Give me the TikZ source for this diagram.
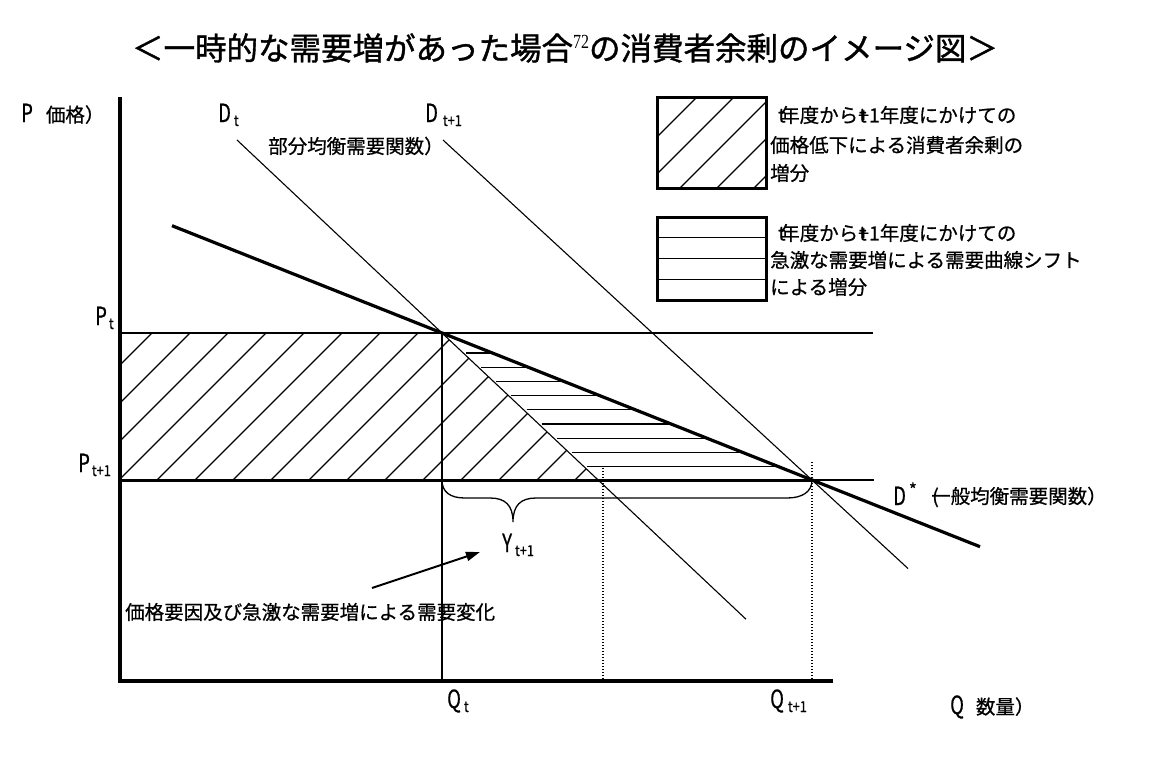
\documentclass[tikz,border=0pt]{standalone}
\usepackage{fontspec}
\usepackage{graphicx}
\setmainfont{Noto Sans CJK JP}[FakeBold=0.7]
\newfontfamily\titlefont{Noto Sans CJK JP}[FakeBold=1.2]
\newfontfamily\serifnum{Liberation Serif}
\usetikzlibrary{arrows.meta}
\newcommand{\bigL}[1]{{\fontsize{25}{25}\selectfont\scalebox{0.74}[1]{#1}}}
\newcommand{\subL}[1]{\raisebox{-4pt}{\fontsize{15}{15}\selectfont\scalebox{0.85}[1]{#1}}}
\newcommand{\lbfont}{\fontsize{19.5}{29}\selectfont}
\newcommand{\legfirst}{\kern2pt\rlap{t}\kern2pt 年度から\rlap{\kern1pt t}+1年度にかけての}
\tikzset{
  thinline/.style={line width=1.1pt, black},
  hatchline/.style={line width=1.1pt, black},
  axisline/.style={line width=4pt, black, line join=miter},
  dotline/.style={line width=1.2pt, black, dash pattern=on 1.2pt off 1.8pt},
  lbl/.style={inner sep=0pt, font=\lbfont},
  legbox/.style={line width=3pt, black},
}
\begin{document}
\begin{tikzpicture}[x=1pt,y=-1pt]
\useasboundingbox (0,0) rectangle (1151,756);
\fill[white] (0,0) rectangle (1151,756);

% key points
\coordinate (E1) at (442,333);
\coordinate (E2) at (812,480);
\coordinate (C) at (598.1,480);
\coordinate (Dts) at (237,140);
\coordinate (Dte) at (746,619.2);
\coordinate (D1s) at (443,140);
\coordinate (D1e) at (908,568.5);
\coordinate (Dss) at (172,225.7);
\coordinate (Dse) at (980,546.7);
\coordinate (O) at (120,681);
\coordinate (Ytop) at (120,97);
\coordinate (Xend) at (833,681);
\coordinate (PtL) at (120,333);
\coordinate (PtR) at (873,333);
\coordinate (P1L) at (120,480);
\coordinate (P1R) at (874,480);
\coordinate (Qb) at (442,480);
\coordinate (Qt) at (442,681);
\coordinate (V1top) at (603,468);
\coordinate (V1bot) at (603,681);
\coordinate (V2top) at (812,462);
\coordinate (V2bot) at (812,681);

% diagonal hatch region
\begin{scope}
  \clip (PtL) -- (E1) -- (C) -- (P1L) -- cycle;
  \foreach \k in {-4,...,13}{
    \pgfmathsetmacro{\c}{599+38*\k}
    \draw[hatchline] (\c-520,520) -- (\c-300,300);
  }
\end{scope}

% horizontal hatch region
\foreach \k in {0,...,8}{
  \pgfmathsetmacro{\yy}{353+14.2*\k}
  \pgfmathsetmacro{\xs}{442+(\yy-333)/0.94146+3}
  \pgfmathsetmacro{\xe}{442+(\yy-333)/0.3973}
  \draw[hatchline] (\xs,\yy) -- (\xe,\yy);
}

% price lines
\draw[line width=2pt] (PtL) -- (E1);
\draw[line width=1.6pt] (E1) -- (PtR);
\draw[line width=3pt] (P1L) -- (E2);
\draw[line width=1.6pt] (E2) -- (P1R);

% demand lines
\draw[thinline] (Dts) -- (Dte);
\draw[thinline] (D1s) -- (D1e);
\draw[line width=3.2pt] (Dss) -- (Dse);

% verticals
\draw[line width=1.6pt] (E1) -- (Qt);
\draw[dotline] (V1top) -- (V1bot);
\draw[dotline] (V2top) -- (V2bot);

% axes
\draw[axisline] (Ytop) -- (O) -- (Xend);

% brace
\draw[line width=1.3pt] (Qb) .. controls (442,492) and (450,498) .. (465,498)
  -- (490,498) .. controls (505,498) and (513,505) .. (513,522)
  .. controls (513,505) and (521,498) .. (536,498)
  -- (787,498) .. controls (802,498) and (812,492) .. (E2);

% arrow
\coordinate (Astart) at (372,588);
\coordinate (Aend) at (480,552);
\draw[line width=2pt, -{Triangle[length=14pt,width=9pt]}] (Astart) -- (Aend);

% legend 1
\begin{scope}
  \clip (657,97) rectangle (766,188);
  \foreach \k in {0,...,4}{
    \pgfmathsetmacro{\c}{794+37*\k}
    \draw[hatchline] (\c-200,200) -- (\c-90,90);
  }
\end{scope}
\draw[legbox] (657,97) rectangle (766,188);
\node[lbl, anchor=west] (l1a) at (776,115) {\legfirst};
\node[lbl, anchor=west] (l1b) at (770,145) {価格低下による消費者余剰の};
\node[lbl, anchor=west] (l1c) at (770,173) {増分};

% legend 2
\foreach \yy in {237.7,258.5,279.2}{
  \draw[line width=1.4pt] (657,\yy) -- (766,\yy);
}
\draw[legbox] (657,217) rectangle (766,300);
\node[lbl, anchor=west] (l2a) at (776,233) {\legfirst};
\node[lbl, anchor=west] (l2b) at (770,260) {急激な需要増による需要曲線シフト};
\node[lbl, anchor=west] (l2c) at (770,287) {による増分};

% title
\node[inner sep=0pt, font=\titlefont\fontsize{31.5}{36}\selectfont] (title) at (565,48)
  {＜一時的な需要増があった場合\raisebox{0.36em}{\serifnum\fontsize{20}{20}\selectfont\scalebox{0.8}[1]{72}}の消費者余剰のイメージ図＞};

% axis labels
\node[lbl, anchor=base west] (plab) at (21,122) {\bigL{P}\kern13pt 価格）};
\node[lbl, anchor=base west] (qlab) at (950,714) {\bigL{Q}\kern12pt 数量）};
\node[lbl, anchor=base west] (dtlab) at (218,122) {\bigL{D}\kern3pt\subL{t}};
\node[lbl, anchor=base west] (d1lab) at (425,122) {\bigL{D}\kern5pt\subL{t+1}};
\node[lbl, anchor=west] (pel) at (268,146) {部分均衡需要関数）};
\node[lbl, anchor=base west] (ptlab) at (95,325) {\bigL{P}\kern2pt\subL{t}};
\node[lbl, anchor=base west] (p1lab) at (78,472) {\bigL{P}\kern2pt\subL{t+1}};
\node[lbl, anchor=base west] (qtlab) at (447,708) {\bigL{Q}\kern3pt\subL{t}};
\node[lbl, anchor=base west] (q1lab) at (770,708) {\bigL{Q}\kern4pt\subL{t+1}};
\node[lbl, anchor=base west] (ylab) at (502,552) {\bigL{Y}\kern3pt\subL{t+1}};
\node[lbl, anchor=base west] (dslab) at (893,505) {\bigL{D}\kern3pt\raisebox{9pt}{\fontsize{17}{17}\selectfont *}};
\node[lbl, anchor=west] (gel) at (931,497) {\rlap{\kern1pt(}一般均衡需要関数）};
\node[lbl, anchor=west] (arrlab) at (125,612) {価格要因及び急激な需要増による需要変化};
\end{tikzpicture}
\end{document}
